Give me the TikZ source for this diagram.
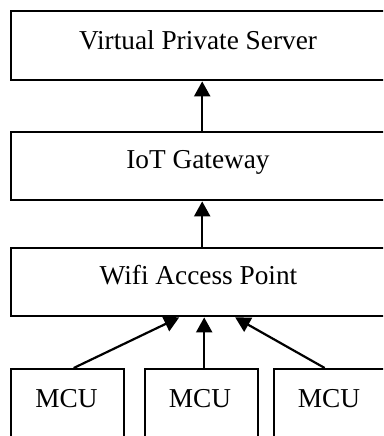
\documentclass[tikz,border=0pt]{standalone}
\usepackage{fontspec}
\setmainfont{Liberation Serif}
\usetikzlibrary{arrows.meta,calc}
\begin{document}
\begin{tikzpicture}[x=1pt,y=-1pt,
  box/.style={draw=black,line width=2.4pt,rectangle,inner sep=0pt,anchor=north west},
  bigbox/.style={box,minimum width=382pt,minimum height=68pt},
  mcubox/.style={box,minimum width=113pt,minimum height=100pt},
  lbl/.style={anchor=base,inner sep=0pt,font=\fontsize{27.3}{32}\selectfont},
  link/.style={line width=2.2pt,-{Triangle[length=15pt,width=16pt]}}]
\useasboundingbox (0,0) rectangle (383,436);
\clip (0,0) rectangle (383,436);
\fill[white] (0,0) rectangle (383,436);
% boxes
\node[bigbox,minimum height=69pt] (vps) at (10,10) {};
\node[bigbox] (gw) at (10,131) {};
\node[bigbox] (wifi) at (10,247) {};
\node[mcubox] (m1) at (10,368) {};
\node[mcubox] (m2) at (144,368) {};
\node[mcubox] (m3) at (273,368) {};
% labels
\node[lbl] (tvps) at (198,50) {Virtual Private Server};
\node[lbl] (tgw) at (198,168) {IoT Gateway};
\node[lbl] (twifi) at (198.5,284) {Wifi Access Point};
\node[lbl] (tm1) at (66.5,407) {MCU};
\node[lbl] (tm2) at (200,407) {MCU};
\node[lbl] (tm3) at (329,407) {MCU};
% connectors
\draw[link] (gw.north) -- (vps.south);
\draw[link] (wifi.north) -- (gw.south);
\draw[link] ($(m1.north)+(6,0)$) -- ($(wifi.south)+(-23,0)$);
\draw[link] ($(m2.north)+(2.5,0)$) -- ($(wifi.south)+(2,0)$);
\draw[link] ($(m3.north)+(-6,0)$) -- ($(wifi.south)+(33,0)$);
\end{tikzpicture}
\end{document}
